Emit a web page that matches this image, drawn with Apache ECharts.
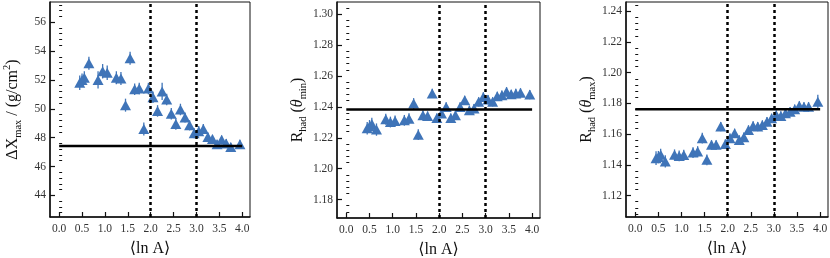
<!DOCTYPE html>
<html>
<head>
<meta charset="utf-8">
<script src="https://cdn.jsdelivr.net/npm/echarts@6/dist/echarts.min.js"></script>
<style>
  html, body { margin: 0; padding: 0; background: #fff; }
  #chart { width: 830px; height: 258px; }
</style>
</head>
<body>
<div id="chart"></div>
<script>
// ---- data ----
const lnA = [0.45, 0.5, 0.55, 0.65, 0.85, 0.95, 1.05, 1.25, 1.35, 1.45, 1.55, 1.65, 1.75, 1.85, 1.95,
  2.05, 2.15, 2.25, 2.35, 2.45, 2.55, 2.65, 2.75, 2.85, 2.95, 3.05, 3.15, 3.25, 3.35, 3.45, 3.55, 3.65, 3.75, 3.95];
const dXmax = [51.8, 52.0, 52.15, 53.15, 52.0, 52.6, 52.5, 52.15, 52.1, 50.25, 53.5, 51.35, 51.4, 48.6, 51.4,
  50.8, 49.85, 51.2, 50.65, 49.65, 48.95, 49.95, 49.4, 48.85, 48.3, 48.45, 48.6, 48.05, 47.9, 47.55, 47.85, 47.6, 47.35, 47.55];
const dXmaxErr = [0.5, 0.45, 0.45, 0.45, 0.6, 0.5, 0.5, 0.45, 0.45, 0.45, 0.45, 0.4, 0.4, 0.45, 0.4,
  0.4, 0.4, 0.6, 0.4, 0.4, 0.4, 0.4, 0.35, 0.35, 0.35, 0.35, 0.35, 0.3, 0.3, 0.3, 0.3, 0.3, 0.3, 0.3];
const rhadMin = [1.2262, 1.2275, 1.2290, 1.2253, 1.2320, 1.2302, 1.2309, 1.2313, 1.2324, 1.2422, 1.2220, 1.2346, 1.2341, 1.2487, 1.2328,
  1.2357, 1.2400, 1.2328, 1.2346, 1.2400, 1.2443, 1.2378, 1.2389, 1.2433, 1.2465, 1.2448, 1.2433, 1.2469, 1.2476, 1.2498, 1.2482, 1.2487, 1.2491, 1.2480];
const rhadMinErr = [0.004, 0.004, 0.004, 0.004, 0.0035, 0.0035, 0.0035, 0.0035, 0.0035, 0.0035, 0.0035, 0.003, 0.003, 0.003, 0.003,
  0.003, 0.003, 0.003, 0.003, 0.003, 0.003, 0.003, 0.003, 0.003, 0.003, 0.003, 0.003, 0.003, 0.003, 0.003, 0.003, 0.003, 0.003, 0.003];
const rhadMax = [1.1443, 1.1450, 1.1465, 1.1422, 1.1465, 1.1458, 1.1463, 1.1480, 1.1486, 1.1573, 1.1432, 1.1530, 1.1530, 1.1649, 1.1536,
  1.1573, 1.1605, 1.1562, 1.1580, 1.1627, 1.1653, 1.1649, 1.1659, 1.1681, 1.1703, 1.1724, 1.1718, 1.1735, 1.1746, 1.1762, 1.1784, 1.1778, 1.1778, 1.1811];
const rhadMaxErr = [0.0045, 0.004, 0.004, 0.004, 0.0035, 0.0035, 0.0035, 0.0035, 0.0035, 0.0035, 0.0035, 0.003, 0.003, 0.003, 0.003,
  0.003, 0.003, 0.003, 0.003, 0.003, 0.003, 0.003, 0.003, 0.003, 0.003, 0.003, 0.003, 0.003, 0.003, 0.003, 0.003, 0.003, 0.003, 0.0045];

const xTicks = [0, 0.5, 1, 1.5, 2, 2.5, 3, 3.5, 4];
const yTicks1 = [44, 46, 48, 50, 52, 54, 56];
const yTicks2 = [1.18, 1.20, 1.22, 1.24, 1.26, 1.28, 1.30];
const yTicks3 = [1.12, 1.14, 1.16, 1.18, 1.20, 1.22, 1.24];
const refLevels = [47.42, 1.2383, 1.1761];
const dividers = [2, 3];

// ---- layout / style ----
const BLUE = '#3f74b8';
const SERIF = '"Liberation Serif", "DejaVu Serif", serif';
const panels = [
  { left: 50, width: 200, top: 2, height: 215, ymin: 42.5, ymax: 57.4, ticks: yTicks1, dec: 0, vals: dXmax, errs: dXmaxErr, ref: refLevels[0],
    gap: 26, name: '{a|ΔX}{sub|max}{a| / (g/cm}{sup|2}{a|)}' },
  { left: 337, width: 203, top: 2, height: 216, ymin: 1.168, ymax: 1.308, ticks: yTicks2, dec: 2, vals: rhadMin, errs: rhadMinErr, ref: refLevels[1],
    gap: 28, name: '{a|R}{sub|had}{a| (}{th|θ}{sub|min}{a|)}' },
  { left: 626, width: 202, top: 2, height: 215, ymin: 1.106, ymax: 1.246, ticks: yTicks3, dec: 2, vals: rhadMax, errs: rhadMaxErr, ref: refLevels[2],
    gap: 28, name: '{a|R}{sub|had}{a| (}{th|θ}{sub|max}{a|)}' }
];
const XMIN = -0.2, XMAX = 4.17;

function minorTicks(ticks, min, max) {
  const major = ticks[1] - ticks[0];
  const minor = major / 5;
  const out = [];
  for (let k = -10; k <= ticks.length * 5 + 10; k++) {
    const v = +(ticks[0] + k * minor).toFixed(6);
    if (v > min && v < max && k % 5 !== 0) out.push(v);
  }
  return out;
}

const rich = {
  a: { fontFamily: SERIF, fontSize: 16, lineHeight: 22, color: '#111' },
  th: { fontFamily: SERIF, fontSize: 16, lineHeight: 22, fontStyle: 'italic', color: '#111' },
  sub: { fontFamily: SERIF, fontSize: 10.5, lineHeight: 10, verticalAlign: 'bottom', color: '#111' },
  sup: { fontFamily: SERIF, fontSize: 10.5, lineHeight: 10, verticalAlign: 'top', color: '#111' }
};

const grid = [], xAxis = [], yAxis = [], series = [];
panels.forEach((p, i) => {
  grid.push({ left: p.left, top: p.top, width: p.width, height: p.height, show: true,
    outerBoundsMode: 'none', containLabel: false,
    borderColor: '#111', borderWidth: 1, backgroundColor: 'transparent' });
  xAxis.push({
    type: 'value', gridIndex: i, min: XMIN, max: XMAX,
    name: '⟨ln A⟩', nameLocation: 'middle', nameGap: 24,
    nameTextStyle: { fontFamily: SERIF, fontSize: 16, color: '#111' },
    axisLine: { show: true, onZero: false, lineStyle: { color: '#111', width: 1.5 } },
    axisTick: { show: true, inside: true, length: 5, customValues: xTicks, lineStyle: { color: '#111', width: 1.2 } },
    axisLabel: { customValues: xTicks, formatter: v => v.toFixed(1), fontFamily: SERIF, fontSize: 11.5, color: '#333', margin: 6 },
    splitLine: { show: false }
  });
  yAxis.push({
    type: 'value', gridIndex: i, min: p.ymin, max: p.ymax,
    name: p.name, nameLocation: 'middle', nameGap: p.gap, nameRotate: 90, nameMoveOverlap: false,
    nameTextStyle: { rich: rich },
    axisLine: { show: true, onZero: false, lineStyle: { color: '#111', width: 1.5 } },
    axisTick: { show: true, inside: true, length: 5, customValues: p.ticks, lineStyle: { color: '#111', width: 1.2 } },
    axisLabel: { customValues: p.ticks, formatter: v => v.toFixed(p.dec), fontFamily: SERIF, fontSize: 11.5, color: '#333', margin: 4 },
    splitLine: { show: false }
  });
});
panels.forEach((p, i) => {
  yAxis.push({
    type: 'value', gridIndex: i, min: p.ymin, max: p.ymax, position: 'left',
    axisLine: { show: false },
    axisTick: { show: true, inside: true, length: 3, customValues: minorTicks(p.ticks, p.ymin, p.ymax), lineStyle: { color: '#111', width: 1 } },
    axisLabel: { show: false },
    splitLine: { show: false }
  });
});

panels.forEach((p, i) => {
  const pts = lnA.map((x, k) => [x, p.vals[k], p.errs[k]]);
  series.push({
    type: 'custom', xAxisIndex: i, yAxisIndex: i, data: pts, z: 2, silent: true,
    renderItem: (params, api) => {
      const x = api.value(0), y = api.value(1), e = api.value(2);
      const a = api.coord([x, y - e]), b = api.coord([x, y + e]);
      return { type: 'line', shape: { x1: a[0], y1: a[1], x2: b[0], y2: b[1] },
        style: { stroke: BLUE, lineWidth: 1.3 } };
    }
  });
  series.push({
    type: 'scatter', xAxisIndex: i, yAxisIndex: i, data: pts.map(d => [d[0], d[1]]), z: 3,
    symbol: 'triangle', symbolSize: [11, 10], itemStyle: { color: BLUE, opacity: 1 }, silent: true
  });
  series.push({
    type: 'line', xAxisIndex: i, yAxisIndex: i, data: [[0, p.ref], [4, p.ref]], z: 4,
    symbol: 'none', lineStyle: { color: '#000', width: 2.5 }, silent: true,
    markLine: {
      silent: true, symbol: 'none', label: { show: false },
      lineStyle: { color: '#000', width: 2.5, type: [3, 3] },
      data: dividers.map(d => ({ xAxis: d }))
    }
  });
});

const chart = echarts.init(document.getElementById('chart'), null, { renderer: 'canvas' });
chart.setOption({ animation: false, grid, xAxis, yAxis, series });
</script>
</body>
</html>
